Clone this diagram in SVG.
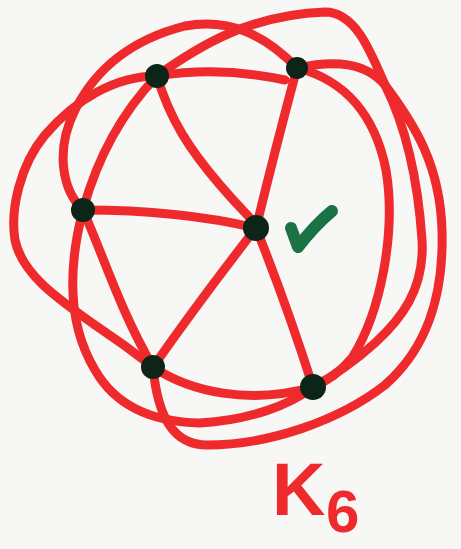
<svg xmlns="http://www.w3.org/2000/svg" width="461" height="549" viewBox="0 0 461 549">
<style>
.e{fill:none;stroke:#ee2a2c;stroke-width:9;stroke-linecap:round;stroke-linejoin:round}
.n{fill:#0d2418}
.lbl{fill:#ee2a2c;font-family:"Liberation Sans",Arial,sans-serif;font-weight:bold}
</style>
<rect width="461" height="549" fill="#f7f7f5"/>
<g id="connectors">
<path class="e" d="M157,76 Q220,66 285,80"/>
<path class="e" d="M157,76 Q105,130 83,210"/>
<path class="e" d="M157,76 C170,120 190,150 220,185 S250,215 256,228"/>
<path class="e" d="M297,68 Q275,150 256,228"/>
<path class="e" d="M83,210 Q180,210 256,228"/>
<path class="e" d="M83,210 C105,260 120,310 153,367"/>
<path class="e" d="M256,228 Q200,300 153,367"/>
<path class="e" d="M256,228 Q285,300 313,387"/>
<path class="e" d="M153,367 C190,392 250,405 313,387"/>
<path class="e" d="M297,68 C345,80 375,115 386,170 C396,230 382,310 352,358 Q335,378 313,387"/>
<path class="e" d="M157,76 C200,45 250,15 325,12 C355,12 370,50 385,85 C405,125 418,180 422,240 C425,290 400,320 375,343 Q345,370 313,387"/>
<path class="e" d="M297,68 C335,60 365,62 385,85 C415,125 440,165 442,230 C444,300 425,350 385,385 C340,420 270,445 207,445 C175,445 158,420 153,367"/>
<path class="e" d="M157,76 C115,76 75,100 45,135 C20,165 10,210 15,240 C22,275 60,300 95,325 Q125,345 153,367"/>
<path class="e" d="M83,210 C62,190 55,150 75,110 C95,70 130,40 185,26 C230,18 265,35 297,68"/>
<path class="e" d="M83,210 C70,260 65,320 95,370 C115,405 150,422 200,423 C250,420 290,405 313,387"/>
</g>
<g id="node-a"><circle class="n" cx="157" cy="76" r="12"/></g>
<g id="node-b"><circle class="n" cx="297" cy="68" r="11"/></g>
<g id="node-c"><circle class="n" cx="83" cy="210" r="12"/></g>
<g id="node-d"><circle class="n" cx="256" cy="228" r="13"/></g>
<g id="node-e"><circle class="n" cx="153" cy="367" r="12"/></g>
<g id="node-f"><circle class="n" cx="313" cy="387" r="13"/></g>
<g id="check"><path d="M291,228 L298,247 Q315,225 332,211" fill="none" stroke="#1b7245" stroke-width="12" stroke-linecap="round" stroke-linejoin="round"/></g>
<g id="label"><text class="lbl" x="272" y="515" font-size="74">K</text><text class="lbl" x="326" y="532" font-size="60">6</text></g>
</svg>
